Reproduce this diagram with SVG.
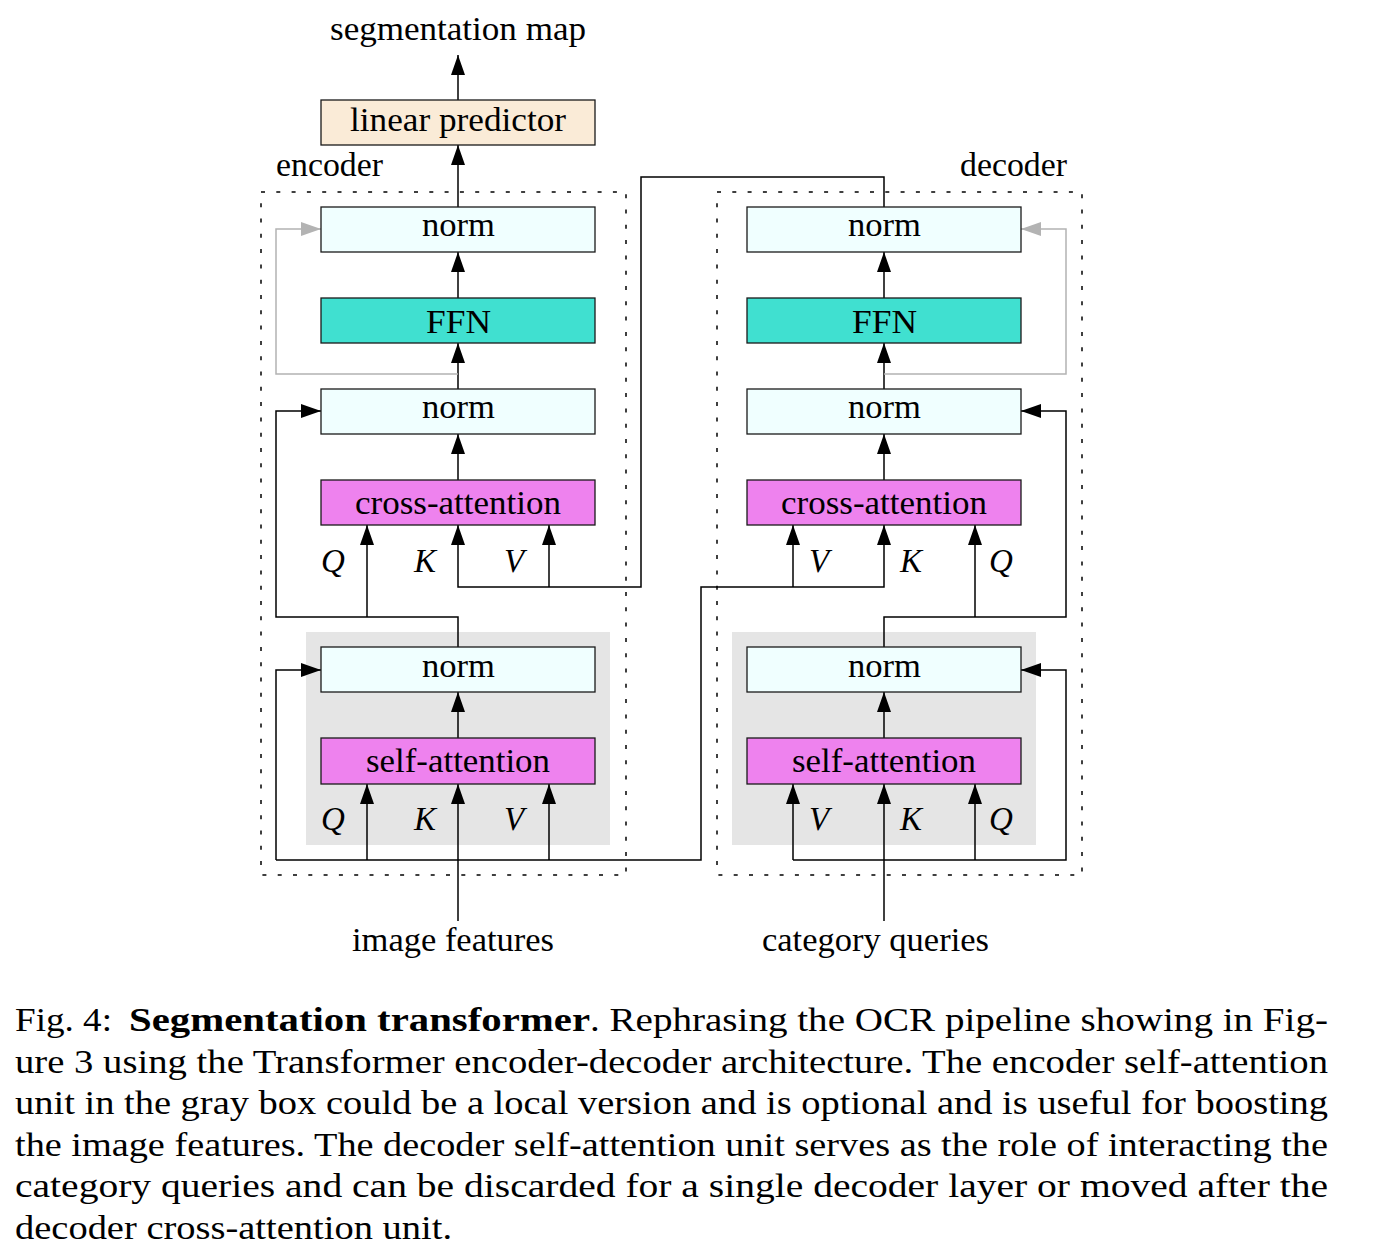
<svg xmlns="http://www.w3.org/2000/svg" width="1380" height="1256" viewBox="0 0 1380 1256">
<style>
.t{font-family:"Liberation Serif","Times New Roman",serif;font-size:33px;fill:#000}
.it{font-family:"Liberation Serif","Times New Roman",serif;font-size:33px;font-style:italic;fill:#000}
.cap{font-family:"Liberation Serif","Times New Roman",serif;font-size:34px;fill:#000}
.b{font-weight:bold}
.box{stroke:#1a1a1a;stroke-width:1.3}
.norm{fill:#F0FFFF}
.ffn{fill:#40E0D0}
.att{fill:#EE82EE}
.lin{fill:#FAEBD7}
.gray{fill:#E5E5E5}
.dot{fill:none;stroke:#000;stroke-width:1.5;stroke-dasharray:4 11.3}
.c{fill:none;stroke:#000;stroke-width:1.5}
.g{fill:none;stroke:#B3B3B3;stroke-width:1.5}
</style>
<defs>
<marker id="ab" markerUnits="userSpaceOnUse" markerWidth="20" markerHeight="14" refX="20" refY="7" orient="auto"><path d="M0,0 L20,7 L0,14 z" fill="#000"/></marker>
<marker id="ag" markerUnits="userSpaceOnUse" markerWidth="20" markerHeight="14" refX="20" refY="7" orient="auto"><path d="M0,0 L20,7 L0,14 z" fill="#B3B3B3"/></marker>
</defs>
<rect width="1380" height="1256" fill="#fff"/>

<g id="containers">
<rect class="gray" x="306" y="632" width="304" height="213"/>
<rect class="gray" x="732" y="632" width="304" height="213"/>
<rect class="dot" x="261" y="192" width="365" height="683"/>
<rect class="dot" x="717" y="192" width="365" height="683"/>
<text class="t" x="276" y="176" textLength="107" lengthAdjust="spacingAndGlyphs">encoder</text>
<text class="t" x="960" y="176" textLength="107" lengthAdjust="spacingAndGlyphs">decoder</text>
</g>

<g id="connectors">
<path class="c" d="M458,100 V55" marker-end="url(#ab)"/>
<path class="c" d="M458,207 V145" marker-end="url(#ab)"/>
<path class="c" d="M458,298 V252" marker-end="url(#ab)"/>
<path class="c" d="M458,389 V343" marker-end="url(#ab)"/>
<path class="c" d="M458,480 V434" marker-end="url(#ab)"/>
<path class="c" d="M458,738 V692" marker-end="url(#ab)"/>
<path class="g" d="M458,374 H276 V229 H321" marker-end="url(#ag)"/>
<path class="c" d="M884,207 V177 H641 V587 H458 V525" marker-end="url(#ab)"/>
<path class="c" d="M549,587 V525" marker-end="url(#ab)"/>
<path class="c" d="M458,647 V617 H276 V411 H321" marker-end="url(#ab)"/>
<path class="c" d="M367,617 V525" marker-end="url(#ab)"/>
<path class="c" d="M458,921 V784" marker-end="url(#ab)"/>
<path class="c" d="M276,860 V670 H321" marker-end="url(#ab)"/>
<path class="c" d="M276,860 H701 V587 H884 V525" marker-end="url(#ab)"/>
<path class="c" d="M793,587 V525" marker-end="url(#ab)"/>
<path class="c" d="M367,860 V784" marker-end="url(#ab)"/>
<path class="c" d="M549,860 V784" marker-end="url(#ab)"/>

<path class="c" d="M884,298 V252" marker-end="url(#ab)"/>
<path class="c" d="M884,389 V343" marker-end="url(#ab)"/>
<path class="c" d="M884,480 V434" marker-end="url(#ab)"/>
<path class="c" d="M884,738 V692" marker-end="url(#ab)"/>
<path class="g" d="M884,374 H1066 V229 H1021" marker-end="url(#ag)"/>
<path class="c" d="M884,647 V617 H1066 V411 H1021" marker-end="url(#ab)"/>
<path class="c" d="M975,617 V525" marker-end="url(#ab)"/>
<path class="c" d="M884,921 V784" marker-end="url(#ab)"/>
<path class="c" d="M793,860 H1066 V670 H1021" marker-end="url(#ab)"/>
<path class="c" d="M793,860 V784" marker-end="url(#ab)"/>
<path class="c" d="M975,860 V784" marker-end="url(#ab)"/>
</g>

<g id="segmentation-map"><text class="t" x="330" y="40" textLength="256" lengthAdjust="spacingAndGlyphs">segmentation map</text></g>
<g id="linear-predictor"><rect class="box lin" x="321" y="100" width="274" height="45"/><text class="t" x="350" y="131" textLength="216" lengthAdjust="spacingAndGlyphs">linear predictor</text></g>

<g id="enc-norm3"><rect class="box norm" x="321" y="207" width="274" height="45"/><text class="t" x="422" y="236" textLength="73" lengthAdjust="spacingAndGlyphs">norm</text></g>
<g id="enc-ffn"><rect class="box ffn" x="321" y="298" width="274" height="45"/><text class="t" x="426" y="333" textLength="65" lengthAdjust="spacingAndGlyphs">FFN</text></g>
<g id="enc-norm2"><rect class="box norm" x="321" y="389" width="274" height="45"/><text class="t" x="422" y="418" textLength="73" lengthAdjust="spacingAndGlyphs">norm</text></g>
<g id="enc-cross"><rect class="box att" x="321" y="480" width="274" height="45"/><text class="t" x="355" y="514" textLength="206" lengthAdjust="spacingAndGlyphs">cross-attention</text></g>
<g id="enc-norm1"><rect class="box norm" x="321" y="647" width="274" height="45"/><text class="t" x="422" y="677" textLength="73" lengthAdjust="spacingAndGlyphs">norm</text></g>
<g id="enc-self"><rect class="box att" x="321" y="738" width="274" height="46"/><text class="t" x="366" y="772" textLength="184" lengthAdjust="spacingAndGlyphs">self-attention</text></g>

<g id="dec-norm3"><rect class="box norm" x="747" y="207" width="274" height="45"/><text class="t" x="848" y="236" textLength="73" lengthAdjust="spacingAndGlyphs">norm</text></g>
<g id="dec-ffn"><rect class="box ffn" x="747" y="298" width="274" height="45"/><text class="t" x="852" y="333" textLength="65" lengthAdjust="spacingAndGlyphs">FFN</text></g>
<g id="dec-norm2"><rect class="box norm" x="747" y="389" width="274" height="45"/><text class="t" x="848" y="418" textLength="73" lengthAdjust="spacingAndGlyphs">norm</text></g>
<g id="dec-cross"><rect class="box att" x="747" y="480" width="274" height="45"/><text class="t" x="781" y="514" textLength="206" lengthAdjust="spacingAndGlyphs">cross-attention</text></g>
<g id="dec-norm1"><rect class="box norm" x="747" y="647" width="274" height="45"/><text class="t" x="848" y="677" textLength="73" lengthAdjust="spacingAndGlyphs">norm</text></g>
<g id="dec-self"><rect class="box att" x="747" y="738" width="274" height="46"/><text class="t" x="792" y="772" textLength="184" lengthAdjust="spacingAndGlyphs">self-attention</text></g>

<g id="qkv-labels">
<text class="it" x="321" y="572">Q</text><text class="it" x="414" y="572">K</text><text class="it" x="504" y="572">V</text>
<text class="it" x="321" y="830">Q</text><text class="it" x="414" y="830">K</text><text class="it" x="504" y="830">V</text>
<text class="it" x="809" y="572">V</text><text class="it" x="900" y="572">K</text><text class="it" x="989" y="572">Q</text>
<text class="it" x="809" y="830">V</text><text class="it" x="900" y="830">K</text><text class="it" x="989" y="830">Q</text>
</g>

<g id="image-features"><text class="t" x="352" y="951" textLength="202" lengthAdjust="spacingAndGlyphs">image features</text></g>
<g id="category-queries"><text class="t" x="762" y="951" textLength="227" lengthAdjust="spacingAndGlyphs">category queries</text></g>

<g id="caption">
<text class="cap" x="15" y="1031" textLength="97" lengthAdjust="spacingAndGlyphs">Fig. 4:</text>
<text class="cap b" x="129" y="1031" textLength="461" lengthAdjust="spacingAndGlyphs">Segmentation transformer</text>
<text class="cap" x="590" y="1031" textLength="738" lengthAdjust="spacingAndGlyphs">. Rephrasing the OCR pipeline showing in Fig-</text>
<text class="cap" x="15" y="1073" textLength="1313" lengthAdjust="spacingAndGlyphs">ure 3 using the Transformer encoder-decoder architecture. The encoder self-attention</text>
<text class="cap" x="15" y="1114" textLength="1313" lengthAdjust="spacingAndGlyphs">unit in the gray box could be a local version and is optional and is useful for boosting</text>
<text class="cap" x="15" y="1156" textLength="1313" lengthAdjust="spacingAndGlyphs">the image features. The decoder self-attention unit serves as the role of interacting the</text>
<text class="cap" x="15" y="1197" textLength="1313" lengthAdjust="spacingAndGlyphs">category queries and can be discarded for a single decoder layer or moved after the</text>
<text class="cap" x="15" y="1239" textLength="437" lengthAdjust="spacingAndGlyphs">decoder cross-attention unit.</text>
</g>
</svg>
